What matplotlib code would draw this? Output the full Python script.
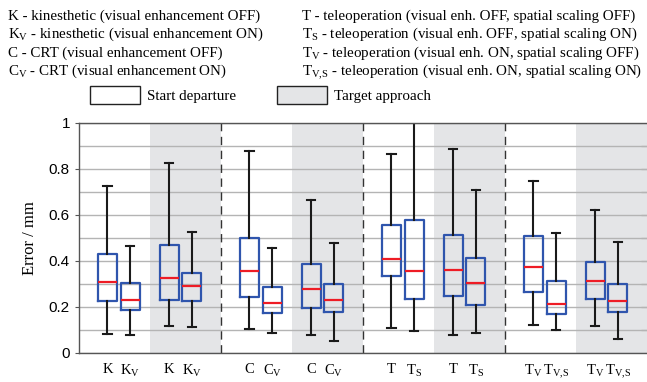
import numpy as np
import matplotlib
matplotlib.use("Agg")
import matplotlib.pyplot as plt
from matplotlib.patches import Patch

plt.rcParams.update({"font.family": "Liberation Serif", "mathtext.fontset": "custom",
                     "mathtext.rm": "Liberation Serif", "mathtext.it": "Liberation Serif:italic"})

# ---- data: error (mm) box statistics, order: K, KV | K, KV | C, CV | C, CV | T, TS | T, TS | TV, TVS | TV, TVS
labels = ["K", r"K$_\mathrm{V}$", "K", r"K$_\mathrm{V}$", "C", r"C$_\mathrm{V}$", "C", r"C$_\mathrm{V}$",
          "T", r"T$_\mathrm{S}$", "T", r"T$_\mathrm{S}$", r"T$_\mathrm{V}$", r"T$_\mathrm{V{,}S}$", r"T$_\mathrm{V}$", r"T$_\mathrm{V{,}S}$"]
whislo = [0.083, 0.078, 0.117, 0.112, 0.104, 0.088, 0.077, 0.053, 0.109, 0.096, 0.080, 0.085, 0.120, 0.099, 0.116, 0.059]
q1     = [0.226, 0.187, 0.232, 0.228, 0.245, 0.174, 0.194, 0.178, 0.336, 0.235, 0.249, 0.209, 0.265, 0.171, 0.235, 0.177]
med    = [0.310, 0.230, 0.326, 0.293, 0.355, 0.219, 0.278, 0.229, 0.410, 0.355, 0.361, 0.304, 0.374, 0.213, 0.314, 0.227]
q3     = [0.429, 0.303, 0.471, 0.349, 0.501, 0.288, 0.387, 0.299, 0.557, 0.578, 0.513, 0.414, 0.509, 0.313, 0.394, 0.301]
whishi = [0.726, 0.464, 0.828, 0.526, 0.877, 0.455, 0.667, 0.477, 0.864, 1.050, 0.888, 0.710, 0.749, 0.522, 0.623, 0.483]

header_left = ["K - kinesthetic (visual enhancement OFF)",
               r"K$_\mathrm{V}$ - kinesthetic (visual enhancement ON)",
               "C - CRT (visual enhancement OFF)",
               r"C$_\mathrm{V}$ - CRT (visual enhancement ON)"]
header_right = ["T - teleoperation (visual enh. OFF, spatial scaling OFF)",
                r"T$_\mathrm{S}$ - teleoperation (visual enh. OFF, spatial scaling ON)",
                r"T$_\mathrm{V}$ - teleoperation (visual enh. ON, spatial scaling OFF)",
                r"T$_\mathrm{V{,}S}$ - teleoperation (visual enh. ON, spatial scaling ON)"]

GRAY = "#e4e5e7"; BLUE = "#2f55ad"; RED = "#ee1c25"

# positions: 4 interfaces x (start, target) x 2 boxes
pos = []
for g in range(4):
    for c, off in enumerate((0.40, 1.27)):
        pos += [2 * g + off, 2 * g + off + 0.32]

W, H = 647, 382
fig = plt.figure(figsize=(W / 100, H / 100), dpi=100)
ax = fig.add_axes([79 / W, 1 - 353 / H, 568 / W, 230 / H])

for s in (1, 3, 5, 7):
    ax.axvspan(s, s + 1, color=GRAY, lw=0, zorder=0)
for d in (2, 4, 6):
    ax.axvline(d, color="#333333", lw=1.0, ls=(0, (6, 4)), zorder=1)

stats = [dict(whislo=a, q1=b, med=c, q3=d, whishi=e, fliers=[]) for a, b, c, d, e in zip(whislo, q1, med, q3, whishi)]
ax.bxp(stats, positions=pos, widths=0.27, capwidths=0.12, showfliers=False, patch_artist=False,
       boxprops=dict(color=BLUE, lw=1.6), medianprops=dict(color=RED, lw=1.6),
       whiskerprops=dict(color="#1a1a1a", lw=1.5), capprops=dict(color="#1a1a1a", lw=1.5), manage_ticks=False)

ax.set_xlim(0, 8); ax.set_ylim(0, 1)
ax.set_xticks(pos); ax.set_xticklabels(labels, fontsize=10.5)
ax.tick_params(axis="x", length=0, pad=7)
ax.set_yticks(np.arange(0, 1.01, 0.2))
ax.set_yticklabels(["0", "0.2", "0.4", "0.6", "0.8", "1"], family="Liberation Sans", fontsize=11)
ax.set_yticks(np.arange(0.1, 1.0, 0.2), minor=True)
ax.tick_params(axis="y", which="major", length=3, direction="out", color="#555555")
ax.tick_params(axis="y", which="minor", length=0)
ax.grid(axis="y", which="both", color="#b4b4b4", lw=1.0, zorder=0.5)
ax.set_axisbelow(True)
sec = ax.secondary_yaxis("right")
sec.set_yticks(np.arange(0.1, 1.0, 0.1)); sec.set_yticklabels([])
sec.tick_params(direction="in", length=4, color="#555555")
sec.spines["right"].set_visible(False)
for sp in ("top", "bottom", "left"):
    ax.spines[sp].set_color("#555555"); ax.spines[sp].set_linewidth(1.0)
ax.spines["right"].set_visible(False)
ax.set_ylabel("Error / mm", fontsize=12, labelpad=8)

for i, (tl, tr) in enumerate(zip(header_left, header_right)):
    yb = 1 - (19.5 + 18.5 * i) / H
    fig.text(8 / W, yb, tl, fontsize=10.8, va="baseline", ha="left")
    fig.text(302 / W, yb, tr, fontsize=10.8, va="baseline", ha="left")

handles = [Patch(facecolor="white", edgecolor="#222222", lw=1.0, label="Start departure"),
           Patch(facecolor=GRAY, edgecolor="#222222", lw=1.0, label="Target approach")]
fig.legend(handles=handles, loc="center left", bbox_to_anchor=(90 / W, 1 - 95 / H), ncol=2, frameon=False,
           fontsize=10.8, handlelength=3.33, handleheight=1.4, handletextpad=0.47, columnspacing=2.73, borderpad=0,
           borderaxespad=0)

fig.savefig("out.png", dpi=100)
